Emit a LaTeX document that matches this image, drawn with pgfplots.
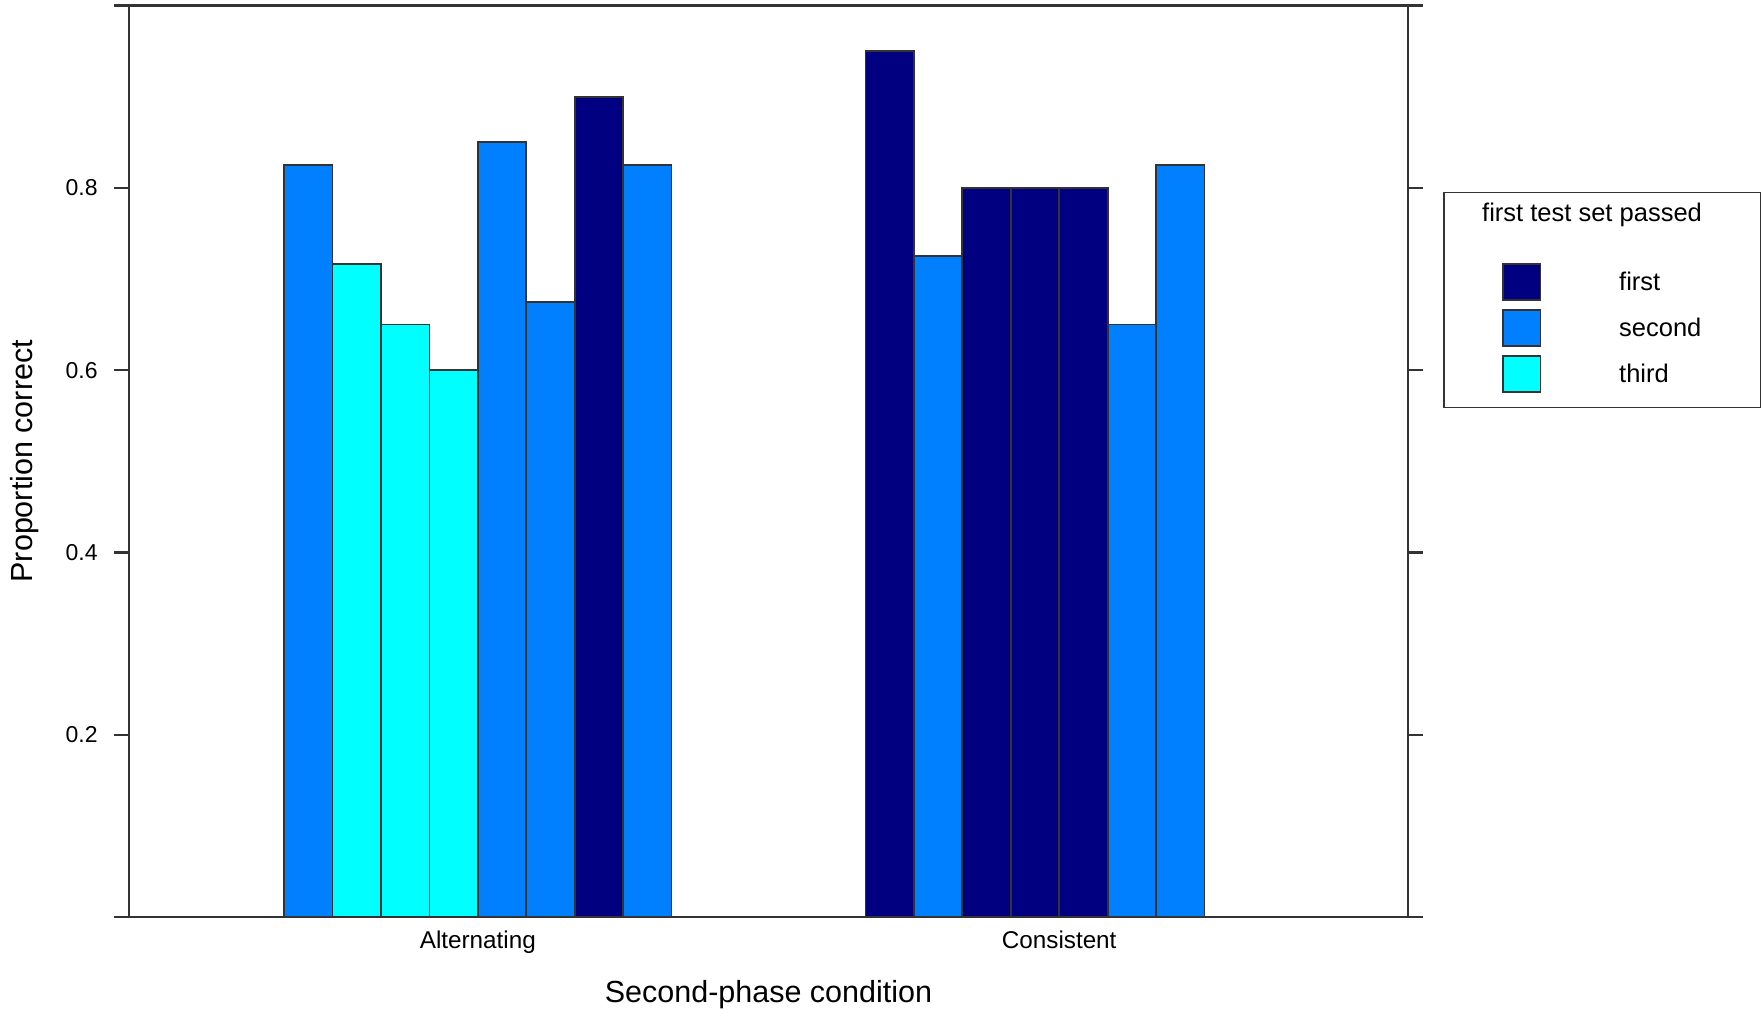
\documentclass[border=0pt]{standalone}
\usepackage{fontspec}
\setmainfont{Liberation Sans}
\usepackage{pgfplots}
\pgfplotsset{compat=1.18}
\definecolor{cfirst}{HTML}{000080}
\definecolor{csecond}{HTML}{0080FF}
\definecolor{cthird}{HTML}{00FFFF}
\definecolor{edge}{HTML}{333333}
\begin{document}
\begin{tikzpicture}
\begin{axis}[
  scale only axis,
  width=511.6pt, height=364.6pt,
  xmin=0.4, xmax=2.6, ymin=0, ymax=1,
  ybar,
  axis line style={edge, line width=0.9pt},
  tick style={edge, line width=0.9pt},
  tick align=outside,
  major tick length=6pt,
  xtick={1,2}, xticklabels={Alternating,Consistent},
  x tick style={draw=none},
  ytick={0,0.2,0.4,0.6,0.8,1},
  yticklabels={,0.2,0.4,0.6,0.8,},
  yticklabel style={font=\fontsize{9.2}{11}\selectfont, xshift=-3pt},
  xticklabel style={font=\fontsize{9.7}{11}\selectfont, yshift=4pt},
  xlabel={Second-phase condition},
  ylabel={Proportion correct},
  xlabel style={font=\fontsize{12.2}{14}\selectfont, at={(axis description cs:0.5,-0.0855)}, anchor=center},
  ylabel style={font=\fontsize{12.2}{14}\selectfont, at={(axis description cs:-0.0813,0.5)}, anchor=center, rotate=0},
  legend style={at={(1.0274,0.7955)}, anchor=north west, draw=edge, line width=0.6pt, fill=white,
    inner xsep=23.4pt, inner ysep=4.2pt,
    font=\fontsize{10.2}{12}\selectfont,
    nodes={inner sep=0pt, text depth=}, cells={anchor=west}, row sep=0pt},
  legend cell align=left,
]
\addlegendimage{legend image code/.code={\path[draw=none,fill=none] (0pt,-17.5pt) rectangle (0pt,4pt);}}
\addlegendentry{\hspace*{-54.8pt}first test set passed}

\addplot[ybar, bar width=0.08333, bar shift=0pt, fill=cfirst, draw=edge, line width=0.7pt,
  legend image code/.code={\path[draw=none,fill=none] (0pt,-9.2pt) rectangle (46.4pt,9.2pt);
    \draw[fill=cfirst, draw=edge, line width=0.7pt] (0pt,-7.2pt) rectangle (14.9pt,7.2pt);}]
  coordinates {(1.20833,0.900) (1.70833,0.950) (1.875,0.800) (1.95833,0.800) (2.04167,0.800)};
\addlegendentry{first}

\addplot[ybar, bar width=0.08333, bar shift=0pt, fill=csecond, draw=edge, line width=0.7pt,
  legend image code/.code={\path[draw=none,fill=none] (0pt,-9.2pt) rectangle (46.4pt,9.2pt);
    \draw[fill=csecond, draw=edge, line width=0.7pt] (0pt,-7.2pt) rectangle (14.9pt,7.2pt);}]
  coordinates {(0.70833,0.825) (1.04167,0.850) (1.125,0.675) (1.29167,0.825) (1.79167,0.725) (2.125,0.650) (2.20833,0.825)};
\addlegendentry{second}

\addplot[ybar, bar width=0.08333, bar shift=0pt, fill=cthird, draw=edge, line width=0.7pt,
  legend image code/.code={\path[draw=none,fill=none] (0pt,-9.2pt) rectangle (46.4pt,9.2pt);
    \draw[fill=cthird, draw=edge, line width=0.7pt] (0pt,-7.2pt) rectangle (14.9pt,7.2pt);}]
  coordinates {(0.79167,0.716) (0.875,0.650) (0.95833,0.600)};
\addlegendentry{third}
\end{axis}
\pgfresetboundingbox
\path[use as bounding box] (-51.6pt,-37.2pt) rectangle (654pt,366.8pt);
\end{tikzpicture}
\end{document}
